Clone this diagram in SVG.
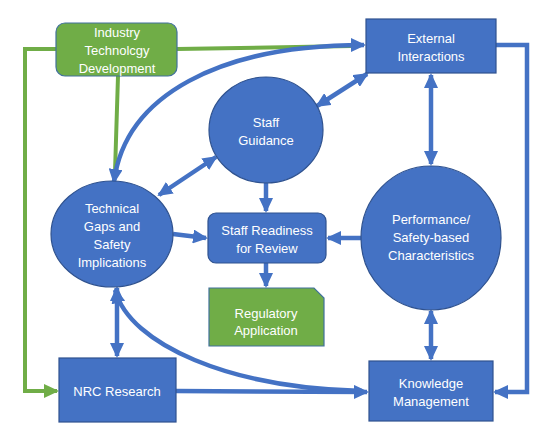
<svg xmlns="http://www.w3.org/2000/svg" width="547" height="448" viewBox="0 0 547 448">
<style>
.b{fill:#4472c4;stroke:#2f528f;stroke-width:1.2}
.g{fill:#70ad47;stroke:#41719c;stroke-width:1.2}
text{font-family:"Liberation Sans",Arial,sans-serif;font-size:13px;fill:#ffffff;text-anchor:middle}
.cb{fill:none;stroke:#4472c4;stroke-width:4.5}
.cg{fill:none;stroke:#70ad47;stroke-width:4}
</style>
<defs>
<marker id="ab" markerUnits="userSpaceOnUse" markerWidth="16" markerHeight="14" refX="13" refY="7" orient="auto-start-reverse">
<path d="M0,0 L15,7 L0,14 Z" fill="#4472c4"/>
</marker>
<marker id="ag" markerUnits="userSpaceOnUse" markerWidth="16" markerHeight="14" refX="13" refY="7" orient="auto">
<path d="M0,0 L15,7 L0,14 Z" fill="#70ad47"/>
</marker>
</defs>
<rect width="547" height="448" fill="#ffffff"/>
<g id="connectors">
<path class="cg" d="M56,49 H25 V391 H57" marker-end="url(#ag)"/>
<path class="cg" d="M177,49 L352,46"/>
<path class="cg" d="M118,76 L115,172"/>
<path class="cb" d="M114,182 C125,95 220,45 364,45" marker-start="url(#ab)" marker-end="url(#ab)"/>
<path class="cb" d="M159,195 L216,157" marker-start="url(#ab)" marker-end="url(#ab)"/>
<path class="cb" d="M317,106 L367,74" marker-start="url(#ab)" marker-end="url(#ab)"/>
<path class="cb" d="M431,75 V164" marker-start="url(#ab)" marker-end="url(#ab)"/>
<path class="cb" d="M496,45 H527 V392 H495" marker-end="url(#ab)"/>
<path class="cb" d="M266,183 V211" marker-end="url(#ab)"/>
<path class="cb" d="M173,234 L206,238" marker-end="url(#ab)"/>
<path class="cb" d="M361,238 H328" marker-end="url(#ab)"/>
<path class="cb" d="M266,263 V286" marker-end="url(#ab)"/>
<path class="cb" d="M431,311 V359" marker-start="url(#ab)" marker-end="url(#ab)"/>
<path class="cb" d="M117,288 V356" marker-start="url(#ab)" marker-end="url(#ab)"/>
<path class="cb" d="M176,391 L367,392" marker-end="url(#ab)"/>
<path class="cb" d="M362,391 C230,388 130,345 115,290" marker-end="url(#ab)"/>
</g>
<g id="industry">
<rect class="g" x="56" y="23" width="121" height="53" rx="9"/>
<text x="117" y="37">Industry</text>
<text x="117" y="55">Technolcgy</text>
<text x="117" y="73">Development</text>
</g>
<g id="external">
<rect class="b" x="366" y="19" width="130" height="54"/>
<text x="431" y="43">External</text>
<text x="431" y="61">Interactions</text>
</g>
<g id="guidance">
<ellipse class="b" cx="266" cy="130" rx="57" ry="53"/>
<text x="266" y="127">Staff</text>
<text x="266" y="145">Guidance</text>
</g>
<g id="technical">
<ellipse class="b" cx="112" cy="234" rx="61" ry="53"/>
<text x="112" y="213">Technical</text>
<text x="112" y="231">Gaps and</text>
<text x="112" y="249">Safety</text>
<text x="112" y="267">Implications</text>
</g>
<g id="readiness">
<rect class="b" x="208" y="213" width="118" height="50" rx="8"/>
<text x="267" y="235">Staff Readiness</text>
<text x="267" y="253">for Review</text>
</g>
<g id="regulatory">
<path class="g" d="M209,288 H314 L324,298 V346 H209 Z"/>
<text x="266" y="318">Regulatory</text>
<text x="266" y="335">Application</text>
</g>
<g id="performance">
<ellipse class="b" cx="431" cy="238" rx="70" ry="72"/>
<text x="431" y="224">Performance/</text>
<text x="431" y="242">Safety-based</text>
<text x="431" y="260">Characteristics</text>
</g>
<g id="nrc">
<rect class="b" x="59" y="358" width="117" height="64"/>
<text x="117" y="396">NRC Research</text>
</g>
<g id="knowledge">
<rect class="b" x="369" y="361" width="124" height="60"/>
<text x="431" y="388">Knowledge</text>
<text x="431" y="406">Management</text>
</g>
</svg>
